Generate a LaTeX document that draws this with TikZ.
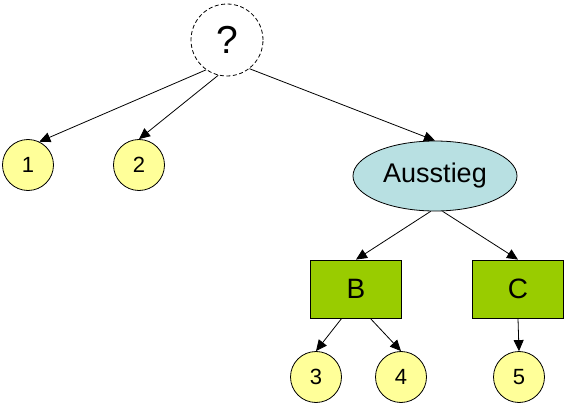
\documentclass[tikz,border=0pt]{standalone}
\usepackage{fontspec}
\setmainfont{Liberation Sans}
\usetikzlibrary{arrows,arrows.meta,shapes.geometric}
\definecolor{leaf}{HTML}{FFFF99}
\definecolor{box}{HTML}{99CC00}
\definecolor{oval}{HTML}{B8E0E2}
\tikzset{
  leaf/.style={circle,draw,fill=leaf,minimum size=51pt,inner sep=0pt,font=\fontsize{22}{24}\selectfont},
  choice/.style={rectangle,draw,fill=box,minimum width=91pt,minimum height=58pt,inner sep=0pt,font=\fontsize{28}{30}\selectfont},
  edge/.style={-{Triangle[length=11pt,width=10pt]}}
}
\begin{document}
\begin{tikzpicture}[x=1pt,y=-1pt,line width=0.8pt]
\useasboundingbox(0,0)rectangle(566,404);
\node[circle,draw,dash pattern=on 4pt off 2.5pt,minimum size=72pt,inner sep=0pt,font=\fontsize{39}{41}\selectfont](q)at(227,40){?};
\node[leaf](n1)at(28,165){1};
\node[leaf](n2)at(139,165){2};
\node[ellipse,draw,fill=oval,minimum width=164pt,minimum height=70pt,inner sep=0pt,font=\fontsize{27}{29}\selectfont](a)at(435,176){Ausstieg};
\node[choice](B)at(356,289){B};
\node[choice](C)at(518,289){C};
\node[leaf](n3)at(316,377){3};
\node[leaf](n4)at(401,377){4};
\node[leaf](n5)at(519,377){5};
\draw[edge](q.235)--(n1.64);
\draw[edge](q.256)--(n2.north);
\draw[edge](q.308)--(a.north);
\draw[edge](a.263)--(B.north);
\draw[edge](a.-78)--(C.north);
\draw[edge](B.244)--(n3.north);
\draw[edge](B.296)--(n4.north);
\draw[edge](C.south)--(n5.north);
\end{tikzpicture}
\end{document}
